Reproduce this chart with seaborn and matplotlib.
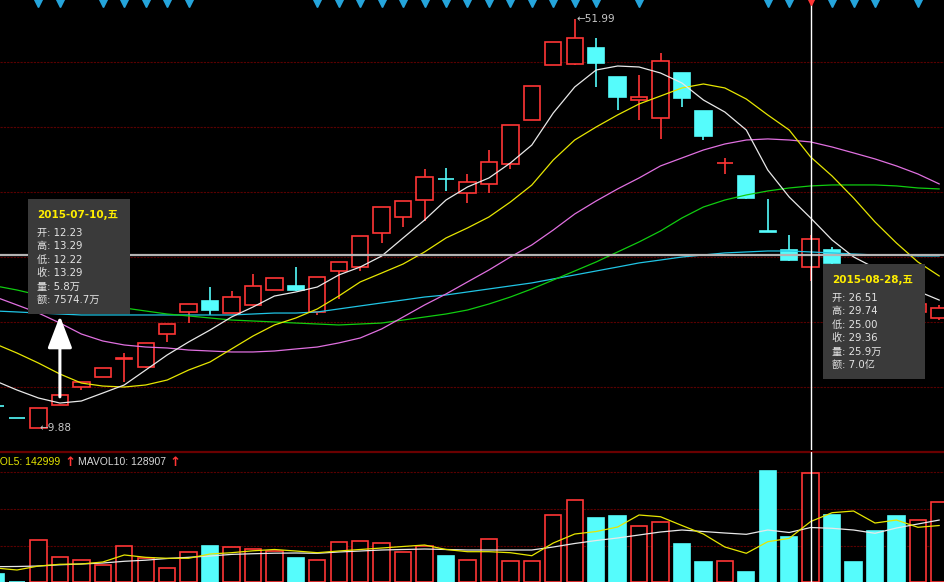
import matplotlib
matplotlib.use("Agg")
import matplotlib.pyplot as plt
import seaborn as sns
import pandas as pd
import numpy as np
from matplotlib.patches import FancyBboxPatch

W, H = 945, 582

# one entry per trading day, the first is the half hidden bar at the left edge
day = list(range(-1, 44))
opens = [12.12, 10.92, 9.88, 12.23, 14.10, 15.13, 16.98, 16.16, 19.56, 21.83,
         22.96, 21.72, 22.55, 24.09, 24.50, 21.83, 26.05, 26.46, 29.96, 31.61,
         33.36, 35.55, 34.08, 35.01, 37.07, 41.60, 47.26, 47.37, 49.01, 46.03,
         43.66, 41.81, 46.44, 42.53, 37.15, 35.83, 30.08, 28.21, 26.51, 28.21,
         26.20, 24.90, 23.60, 21.80, 21.21]
closes = [12.10, 10.90, 11.99, 13.29, 14.62, 16.06, 17.00, 18.63, 20.59, 22.65,
          22.03, 23.37, 24.50, 25.33, 24.09, 25.43, 26.98, 29.65, 32.64, 33.26,
          35.73, 35.50, 35.21, 37.27, 41.08, 45.10, 49.63, 50.04, 47.47, 43.97,
          43.97, 47.68, 43.87, 39.95, 37.20, 33.57, 30.07, 27.18, 29.36, 26.87,
          24.90, 23.50, 22.00, 22.60, 22.24]
highs = [12.12, 10.92, 11.99, 13.29, 14.65, 16.08, 17.60, 18.66, 20.62, 22.70,
         24.40, 23.99, 25.74, 25.36, 26.46, 25.46, 27.00, 29.68, 32.68, 33.30,
         36.55, 36.66, 36.04, 38.51, 41.10, 45.12, 49.65, 51.99, 50.04, 46.05,
         46.23, 48.50, 46.46, 42.55, 37.69, 35.85, 33.46, 29.76, 29.74, 28.52,
         26.30, 25.30, 24.00, 23.00, 22.50]
lows = [12.10, 10.90, 9.88, 12.22, 13.75, 15.10, 14.62, 16.10, 18.74, 20.69,
        21.52, 21.70, 22.50, 24.05, 24.00, 21.52, 23.17, 26.05, 28.93, 30.58,
        31.20, 34.29, 33.05, 34.08, 36.55, 41.58, 47.24, 47.30, 44.99, 42.63,
        41.60, 39.64, 42.94, 39.54, 36.04, 33.50, 30.07, 27.10, 25.00, 26.80,
        24.50, 23.20, 21.60, 21.30, 21.00]
volumes = [18900, 0, 99300, 58000, 52000, 40200, 85900, 57500, 33100, 71000,
           85100, 82000, 77300, 73300, 56000, 52000, 93900, 97000, 91500, 70200,
           85100, 61500, 52000, 101000, 49700, 49700, 157700, 193200, 151400, 156100,
           132400, 141200, 89200, 46600, 50400, 22900, 262000, 107100, 259000, 158500,
           48000, 120600, 156100, 146000, 188500]

ma5 = [14.72, 13.79, 12.97, 12.45, 12.66, 13.48, 14.31, 15.85, 17.40, 18.74,
       19.97, 21.31, 22.34, 23.47, 23.89, 24.40, 25.64, 26.46, 27.59, 29.45,
       31.30, 33.36, 34.70, 35.63, 37.17, 39.02, 42.32, 45.00, 46.75, 47.16,
       47.06, 46.44, 45.41, 43.66, 42.42, 40.57, 36.45, 33.67, 31.51, 29.24,
       27.50, 26.36, 25.33, 23.97, 23.05]
ma10 = [18.53, 17.60, 16.57, 15.44, 14.51, 14.20, 14.10, 14.31, 14.82, 15.85,
        16.68, 18.02, 19.35, 20.49, 21.21, 22.14, 23.47, 24.92, 25.84, 26.77,
        28.01, 29.45, 30.48, 31.61, 33.15, 34.90, 37.48, 39.54, 40.88, 42.12,
        43.25, 44.07, 44.90, 45.31, 44.90, 43.76, 42.12, 40.57, 37.79, 35.83,
        33.57, 31.10, 28.93, 26.98, 25.53]
ma20 = [23.37, 22.55, 21.72, 20.69, 19.56, 18.84, 18.43, 18.22, 18.12, 17.91,
        17.81, 17.71, 17.71, 17.81, 18.02, 18.22, 18.64, 19.15, 20.08, 21.31,
        22.55, 23.68, 24.92, 26.15, 27.49, 28.73, 30.27, 31.92, 33.26, 34.50,
        35.63, 36.87, 37.69, 38.51, 39.13, 39.54, 39.65, 39.54, 39.34, 38.82,
        38.21, 37.59, 36.87, 36.04, 35.01]
ma30 = [24.51, 24.09, 23.58, 23.17, 22.86, 22.55, 22.24, 21.93, 21.62, 21.42,
        21.21, 21.00, 20.90, 20.80, 20.69, 20.59, 20.49, 20.59, 20.69, 21.00,
        21.31, 21.62, 22.03, 22.65, 23.37, 24.20, 25.12, 26.05, 26.98, 28.01,
        29.04, 30.17, 31.51, 32.64, 33.36, 33.88, 34.29, 34.60, 34.81, 34.91,
        34.91, 34.91, 34.81, 34.60, 34.50]
ma60 = [21.93, 21.83, 21.72, 21.62, 21.52, 21.52, 21.52, 21.52, 21.52, 21.52,
        21.52, 21.52, 21.62, 21.72, 21.72, 21.83, 22.14, 22.45, 22.76, 23.06,
        23.37, 23.58, 23.89, 24.20, 24.51, 24.82, 25.23, 25.64, 26.05, 26.46,
        26.88, 27.18, 27.49, 27.70, 27.91, 28.01, 28.11, 28.11, 28.01, 27.91,
        27.80, 27.70, 27.70, 27.60, 27.60]
mavol5 = [33100, 28400, 37800, 41900, 42600, 47300, 63900, 58400, 56100, 56100,
          66200, 69300, 73800, 76900, 73300, 69300, 73300, 76900, 80400, 84000,
          87500, 76900, 71700, 71700, 69300, 62200, 92200, 113500, 119400, 130100,
          158500, 154400, 133600, 113500, 82800, 67900, 95300, 103300, 143000, 163900,
          167900, 139500, 146600, 129400, 133600]
mavol10 = [36200, 36700, 37800, 40700, 42600, 44900, 49000, 51600, 55600, 58400,
           61500, 65300, 66900, 68100, 68600, 67900, 71000, 73300, 75700, 76900,
           78000, 76900, 75700, 75700, 75700, 75700, 82800, 91100, 98100, 104100,
           111200, 118300, 123000, 119400, 115900, 112800, 123000, 117100, 128900, 127000,
           123000, 115200, 127700, 137200, 146600]

# days with the little signal marks along the top edge
mark_days = [1, 2, 4, 5, 6, 7, 8, 14, 15, 16, 17, 18, 19, 20, 21, 22, 23, 24,
             25, 26, 27, 29, 35, 36, 38, 39, 40, 42]
price_grid = [14.1, 20.8, 27.5, 34.2, 40.88, 47.57]
vol_grid = [85000, 172500, 260000]
cross_day = 37
cross_price = 27.7
hi_day, lo_day = 26, 1
mavol5_now, mavol10_now = 142999, 128907

tip_labels = ["开", "高", "低", "收", "量", "额"]
tip1_title = "2015-07-10,五"
tip1_values = ["12.23", "13.29", "12.22", "13.29", "5.8万", "7574.7万"]
tip2_title = "2015-08-28,五"
tip2_values = ["26.51", "29.74", "25.00", "29.36", "25.9万", "7.0亿"]

RED = "#ff3535"
CYAN = "#55fcfc"
GRID = "#5a0000"

sns.set_style("dark", {"axes.facecolor": "black", "figure.facecolor": "black"})
plt.rcParams["font.family"] = ["DejaVu Sans", "Noto Sans CJK SC"]

fig = plt.figure(figsize=(W / 100, H / 100), dpi=100)
ax = fig.add_axes([0, 132 / H, 1, 450 / H])
axv = fig.add_axes([0, 0, 1, 130 / H])

df = pd.DataFrame({"day": day, "open": opens, "close": closes, "high": highs,
                   "low": lows, "vol": volumes})
up = (df.close >= df.open).values
edge = np.where(up, RED, CYAN)
face = np.where(up, "black", CYAN)

# candles
ax.vlines(df.day, df.low, df.high, colors=edge, lw=1.2, zorder=2)
body = (df.close - df.open).abs().clip(lower=0.06)
ax.bar(df.day, body, bottom=df[["open", "close"]].min(axis=1), width=0.76,
       color=face, edgecolor=edge, lw=1.2, zorder=3)

ma = pd.DataFrame({"day": day, "MA60": ma60, "MA30": ma30, "MA20": ma20,
                   "MA10": ma10, "MA5": ma5}).melt("day", var_name="line", value_name="price")
sns.lineplot(data=ma, x="day", y="price", hue="line", ax=ax, legend=False, lw=0.9,
             palette={"MA5": "#e8e8e8", "MA10": "#e6e600", "MA20": "#e070e0",
                      "MA30": "#10cc10", "MA60": "#20c4e4"}, zorder=4)

# volume
axv.bar(df.day, df.vol, width=0.76, color=face, edgecolor=edge, lw=1.2, zorder=3)
mv = pd.DataFrame({"day": day, "MAVOL10": mavol10, "MAVOL5": mavol5}).melt(
    "day", var_name="line", value_name="vol")
sns.lineplot(data=mv, x="day", y="vol", hue="line", ax=axv, legend=False, lw=0.9,
             palette={"MAVOL5": "#e6e600", "MAVOL10": "#e8e8e8"}, zorder=4)

xlim = (-17 / 21.45, (W - 17) / 21.45)
for a in (ax, axv):
    a.set_xlim(*xlim)
    a.grid(False)
    a.tick_params(left=False, bottom=False, labelleft=False, labelbottom=False)
    a.set_xlabel("")
    a.set_ylabel("")
    for s in a.spines.values():
        s.set_visible(False)
    a.yaxis.grid(True, color=GRID, lw=0.8, ls=(0, (2, 1)))
    a.axvline(cross_day, color="white", lw=1, zorder=6)

ax.set_ylim(9.88 - 22 / 9.71, 9.88 + 428 / 9.71)
ax.set_yticks(price_grid)
axv.set_ylim(0, 307500)
axv.set_yticks(vol_grid)
axv.spines["top"].set_visible(True)
axv.spines["top"].set_color("#6a0000")
axv.spines["top"].set_linewidth(1.6)

ax.axhline(cross_price, color="#b4b4b4", lw=1.6, zorder=5)

# marks along the top
ax.plot(mark_days, [0.993] * len(mark_days), ls="none", marker="v", ms=6,
        color="#25a5dc", transform=ax.get_xaxis_transform(), clip_on=False, zorder=7)
ax.plot([cross_day], [0.995], ls="none", marker="v", ms=4, color=RED,
        transform=ax.get_xaxis_transform(), clip_on=False, zorder=7)

# high / low labels
for d, val in [(hi_day, highs[day.index(hi_day)]), (lo_day, lows[day.index(lo_day)])]:
    ax.annotate(f"←{val:.2f}", xy=(d, val), xytext=(1, 0), textcoords="offset points",
                color="#c8c8c8", fontsize=7.5, va="center", ha="left", zorder=8)

# arrow from the 07-10 bar to its info box
ax.annotate("", xy=(2, 1 - 316 / H), xycoords=("data", "figure fraction"),
            xytext=(2, highs[day.index(2)] - 0.2), textcoords="data",
            arrowprops=dict(arrowstyle="-|>,head_length=1.1,head_width=0.42",
                            color="white", lw=2.2, mutation_scale=18,
                            shrinkA=0, shrinkB=0), zorder=8)


def tooltip(left, top, title, values):
    box = FancyBboxPatch((left / W, 1 - (top + 115) / H), 102 / W, 115 / H,
                         boxstyle="square,pad=0", transform=fig.transFigure,
                         fc="#3a3a3a", ec="none", zorder=10)
    fig.add_artist(box)
    fig.text((left + 9) / W, 1 - (top + 16) / H, title, color="#ffee00",
             fontsize=7.5, weight="bold", va="center", zorder=11)
    for k, (lab, val) in enumerate(zip(tip_labels, values)):
        fig.text((left + 9) / W, 1 - (top + 34 + 13.4 * k) / H, f"{lab}: {val}",
                 color="#e4e4e4", fontsize=7.3, va="center", zorder=11)


tooltip(28, 199, tip1_title, tip1_values)
tooltip(823, 264, tip2_title, tip2_values)

# volume header, its left end is cut by the frame edge as in the source
vfont = ["Liberation Sans", "DejaVu Sans"]
fig.text(-22 / W, 1 - 462 / H, f"MAVOL5: {mavol5_now}", color="#e6e600",
         fontsize=7.5, family=vfont, va="center")
fig.text(64 / W, 1 - 462 / H, "↑", color=RED, fontsize=9.5, family="DejaVu Sans",
         va="center", weight="bold")
fig.text(78 / W, 1 - 462 / H, f"MAVOL10: {mavol10_now}", color="#d8d8d8",
         fontsize=7.5, family=vfont, va="center")
fig.text(169 / W, 1 - 462 / H, "↑", color=RED, fontsize=9.5, family="DejaVu Sans",
         va="center", weight="bold")

fig.savefig("out.png", dpi=100, facecolor="black")
